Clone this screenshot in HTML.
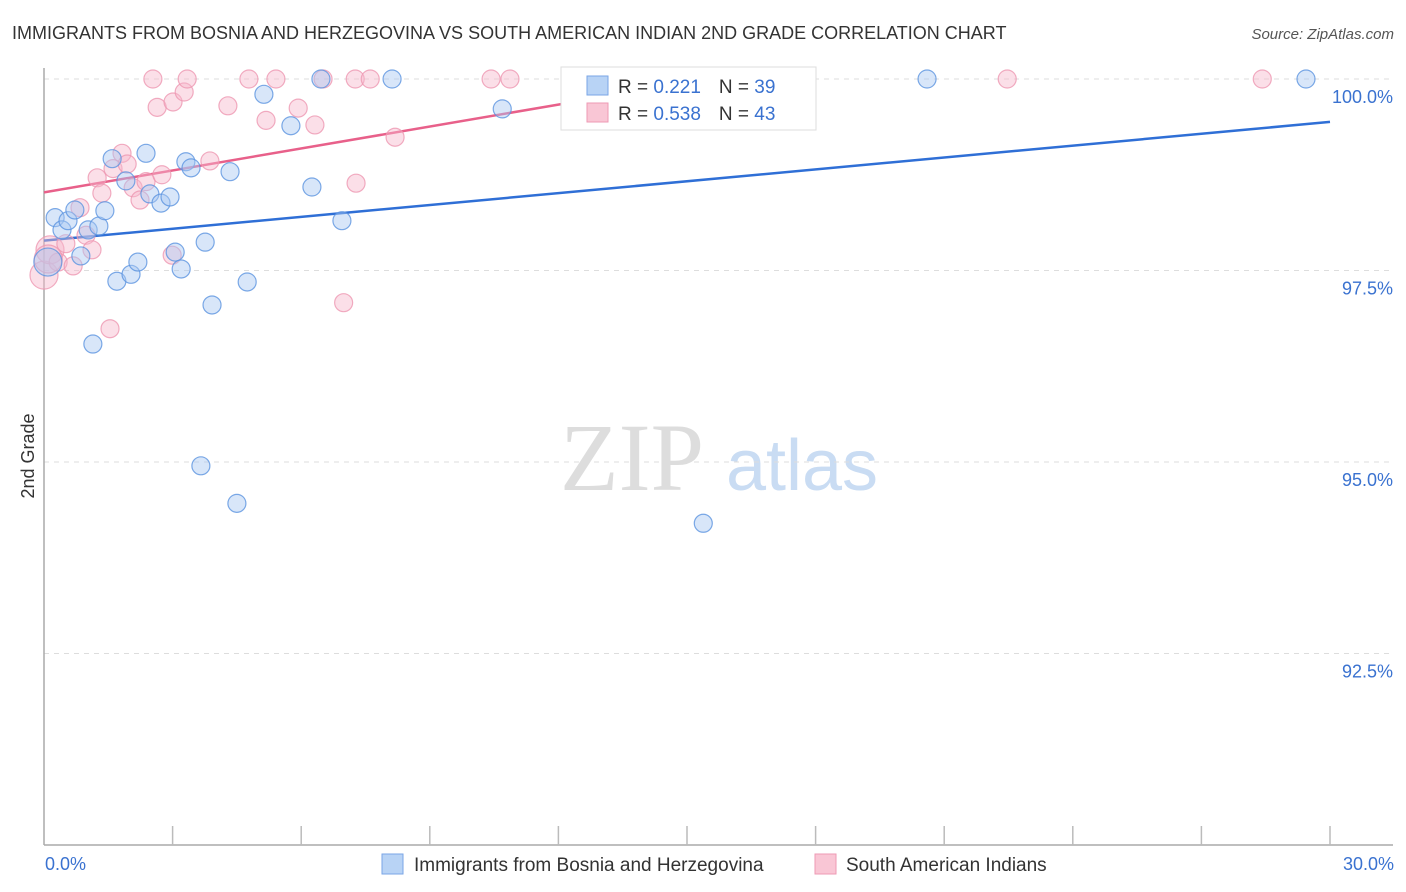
<!DOCTYPE html>
<html><head><meta charset="utf-8"><style>
body{margin:0;background:#fff;width:1406px;height:892px;overflow:hidden;font-family:"Liberation Sans",sans-serif}
svg{position:absolute;left:0;top:0}
</style></head><body>
<svg id="chart" width="1406" height="892" xmlns="http://www.w3.org/2000/svg">
<text x="12" y="39" font-size="18" fill="#333">IMMIGRANTS FROM BOSNIA AND HERZEGOVINA VS SOUTH AMERICAN INDIAN 2ND GRADE CORRELATION CHART</text>
<text x="1394" y="39" font-size="15" fill="#555" font-style="italic" text-anchor="end">Source: ZipAtlas.com</text>
<text transform="translate(34,456) rotate(-90)" font-size="18" fill="#333" text-anchor="middle">2nd Grade</text>
<g>
<text x="632" y="490" font-size="96" fill="#ddd" font-family="Liberation Serif,serif" text-anchor="middle">ZIP</text>
<text x="802" y="490" font-size="72" fill="#c9dcf3" text-anchor="middle">atlas</text>
</g>
<g id="grid"></g><g id="axes"></g><g id="lines"></g><g id="pts"></g>
<g>
<rect x="561" y="67" width="255" height="63" fill="#fff" stroke="#ddd"/>
<rect x="587" y="76" width="21" height="19" fill="#b8d3f5" stroke="#7aa6e6"/>
<rect x="587" y="103" width="21" height="19" fill="#f9c6d5" stroke="#ee9ab4"/>
<text x="618" y="93" font-size="19" fill="#333">R = <tspan fill="#3a72d0"> 0.221</tspan><tspan dx="18" fill="#333">N = </tspan><tspan fill="#3a72d0">39</tspan></text>
<text x="618" y="120" font-size="19" fill="#333">R = <tspan fill="#3a72d0">0.538</tspan><tspan dx="18" fill="#333">N = </tspan><tspan fill="#3a72d0">43</tspan></text>
</g>
<g>
<rect x="382" y="854" width="21" height="20" fill="#b8d3f5" stroke="#7aa6e6"/>
<text x="414" y="871" font-size="19" fill="#333">Immigrants from Bosnia and Herzegovina</text>
<rect x="815" y="854" width="21" height="20" fill="#f9c6d5" stroke="#ee9ab4"/>
<text x="846" y="871" font-size="19" fill="#333">South American Indians</text>
</g>
<text x="45" y="870" font-size="18" fill="#3a72d0">0.0%</text>
<text x="1394" y="870" font-size="18" fill="#3a72d0" text-anchor="end">30.0%</text>
</svg>
<script>
const yTicks=[100,97.5,95,92.5];
const yTickLabels=["100.0%","97.5%","95.0%","92.5%"];
const blueX=[0.26,0.09,0.42,0.56,0.72,0.86,1.03,1.28,1.42,1.14,1.59,1.70,1.91,2.03,2.19,2.38,2.47,2.73,2.94,3.06,3.20,3.31,3.43,3.66,3.76,3.92,4.34,4.50,4.74,5.13,5.76,6.25,6.46,6.95,8.12,10.69,15.38,20.60,29.44];
const blueY=[98.19,97.61,98.03,98.15,98.29,97.69,98.03,98.08,98.28,96.54,98.96,97.36,98.67,97.45,97.61,99.03,98.50,98.38,98.46,97.74,97.52,98.92,98.84,94.95,97.87,97.05,98.79,94.46,97.35,99.80,99.39,98.59,100,98.15,100,99.61,94.20,100,100];
const pinkX=[0,0.14,0.33,0.51,0.68,0.84,0.98,1.12,1.24,1.35,1.54,1.61,1.82,1.94,2.08,2.24,2.38,2.54,2.64,2.75,2.99,3.01,3.27,3.34,3.87,4.29,4.78,5.18,5.41,5.93,6.32,6.51,6.99,7.26,7.28,7.61,8.19,10.43,10.87,13.77,22.47,28.42,0.1];
const pinkY=[97.44,97.77,97.61,97.85,97.56,98.32,97.96,97.77,98.71,98.51,96.74,98.83,99.03,98.89,98.58,98.42,98.66,100,99.63,98.75,97.70,99.70,99.83,100,98.93,99.65,100,99.46,100,99.62,99.40,100,97.08,100,98.64,100,99.24,100,100,100,100,100,97.65];
const blueTrend=[[0,97.89],[30,99.44]];
const pinkTrend=[[0,98.52],[15.5,100]];
const NS="http://www.w3.org/2000/svg";
const xs=v=>44+v/30*1286;
const ys=v=>79+(100-v)*76.6;
function mk(tag,attrs,parent){const e=document.createElementNS(NS,tag);for(const k in attrs)e.setAttribute(k,attrs[k]);parent.appendChild(e);return e;}
const grid=document.getElementById('grid'),axes=document.getElementById('axes'),lines=document.getElementById('lines'),pts=document.getElementById('pts');
yTicks.forEach((t,i)=>{
 const l=mk('line',{x1:44,x2:1393,y1:ys(t),y2:ys(t),stroke:'#ddd','stroke-dasharray':'5,5'},grid);
 
 
 const tx=mk('text',{x:1393,y:ys(t)+24,'font-size':18,fill:'#3a72d0','text-anchor':'end'},grid);
 tx.textContent=yTickLabels[i];
 
 
});
const ya=mk('line',{x1:44,x2:44,y1:68,y2:845,stroke:'#aaa','stroke-width':1.5},axes);


const xa=mk('line',{x1:44,x2:1393,y1:845,y2:845,stroke:'#aaa','stroke-width':1.5},axes);


for(let i=1;i<=10;i++){
 const t=mk('line',{x1:xs(i*3),x2:xs(i*3),y1:826,y2:845,stroke:'#bbb','stroke-width':1.5},axes);
 
 
}
function drawPts(X,Y,fill,stroke,name){
 X.forEach((x,i)=>{
  const big=(x<0.2);
  const c=mk('circle',{cx:xs(x),cy:ys(Y[i]),r:big?14:9,fill:fill,'fill-opacity':0.45,stroke:stroke,'stroke-width':1.2,'stroke-opacity':0.8},pts);
  
  
 });
}
drawPts(pinkX,pinkY,'#f7b9cc','#ee97b2','pink-point');
drawPts(blueX,blueY,'#a9c8f2','#5b93e0','blue-point');
const bl=mk('line',{x1:xs(blueTrend[0][0]),y1:ys(blueTrend[0][1]),x2:xs(blueTrend[1][0]),y2:ys(blueTrend[1][1]),stroke:'#2f6fd6','stroke-width':2.5},lines);


const pl=mk('line',{x1:xs(pinkTrend[0][0]),y1:ys(pinkTrend[0][1]),x2:xs(pinkTrend[1][0]),y2:ys(pinkTrend[1][1]),stroke:'#e8608a','stroke-width':2.5},lines);


</script>
</body></html>
